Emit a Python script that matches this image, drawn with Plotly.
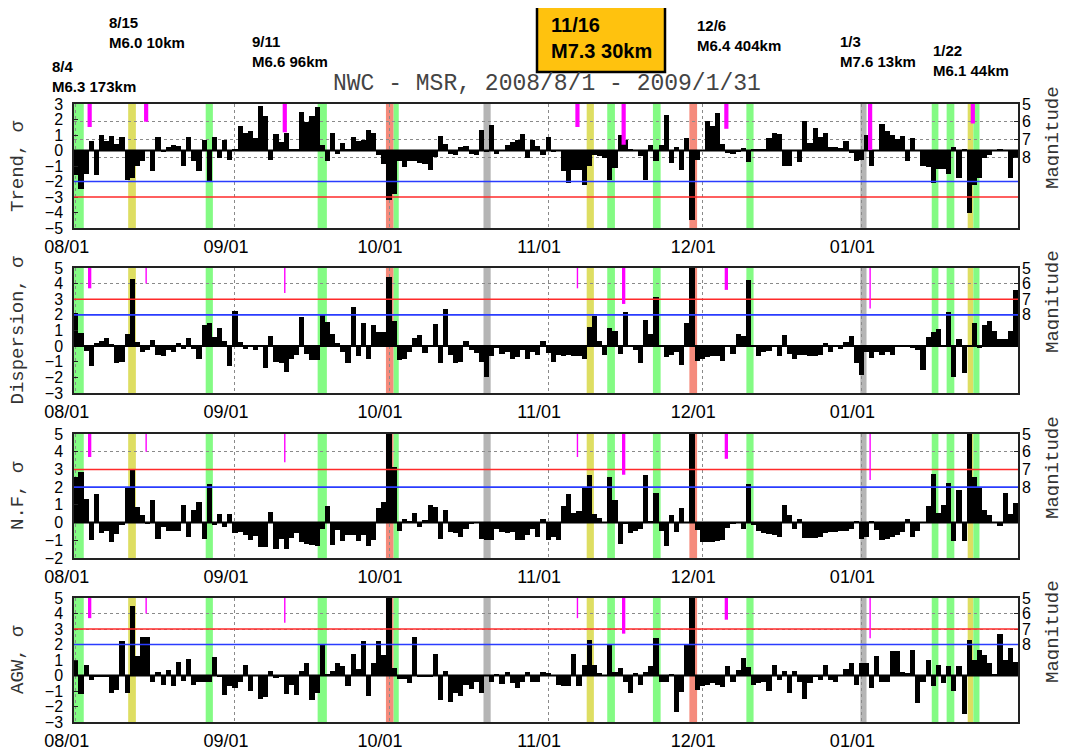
import numpy as np
import pandas as pd
import plotly.graph_objects as go

start = pd.Timestamp("2008-08-01")

trend = [
    -1.6, -2.5, -1.5, 0.6, -1.6, 1.0, 0.6, 0.95, 0.4, 0.9,
    -1.9, -1.8, -1.0, -0.7, 0.0, -1.3, 0.9, -0.1, 0.25, 0.35,
    0.3, -1.0, 0.85, -0.7, -1.3, 0.7, -1.95, 0.85, -0.5, 0.7,
    -0.6, 0.1, 1.55, 1.15, 1.25, 0.8, 2.9, 2.2, -0.6, 1.05,
    0.55, 1.1, 0.1, 0.05, 2.5, 1.85, 2.2, 2.8, 0.35, -0.7,
    1.1, -0.2, 0.5, 0.1, 0.9, 0.6, 0.65, 1.3, 1.1, -0.3,
    -0.9, -3.2, -2.8, -0.7, -1.05, -0.7, -0.7, -0.8, -0.9, -1.25,
    -0.4, 0.95, 0.45, -0.2, -0.3, 0.25, 0.3, -0.2, -0.3, 1.3,
    -0.1, 1.65, -0.25, 0.0, 0.35, 0.55, 0.65, 1.05, -0.5, 0.7,
    0.3, -0.3, 0.85, -0.05, 0.0, -1.35, -2.1, -1.25, -1.25, -2.2,
    -1.0, -0.3, -0.35, -0.5, -1.9, -1.15, 1.0, 0.65, 0.05, 0.0,
    -0.35, -1.9, 0.35, -0.7, 0.35, 2.3, -0.8, 0.25, -1.25, 0.8,
    -4.5, -0.6, 0.0, 1.9, 1.55, 2.45, 0.45, -0.15, -0.25, -0.1,
    0.15, -0.75, 0.05, 0.05, 0.1, 0.8, 1.1, 1.05, -1.0, -1.0,
    0.0, -0.75, 1.9, 0.5, 1.45, 0.9, 1.1, 0.2, 0.2, 0.15,
    0.6, -0.15, -0.7, -0.6, 1.0, -1.0, 0.0, 1.7, 1.25, 1.0,
    0.75, 0.95, -0.7, 0.8, 0.0, -1.0, -1.05, -2.1, -1.2, -1.2,
    -1.5, 0.2, -1.8, 0.1, -4.0, -2.2, -1.8, -0.5, -0.3, 0.0,
    0.05, 0.0, -1.75, -0.5,
]

dispersion = [
    2.1, 0.85, -0.3, -1.25, 0.2, 0.35, 0.5, 0.15, -1.05, -1.0,
    0.75, 4.3, 0.25, -0.35, -0.25, 0.4, -0.55, -0.6, -0.25, -0.4,
    0.2, -0.2, 0.5, -0.2, -0.8, 1.35, 1.45, 0.6, 1.15, 0.3,
    -1.3, 2.25, 0.25, -0.2, 0.0, -0.25, 0.05, -1.4, 0.65, -1.0,
    -1.1, -1.65, -0.85, -0.55, 1.85, -0.5, -0.9, -0.9, 2.0, 1.55,
    0.8, 0.2, -0.35, -1.1, 2.5, -0.6, 1.45, -0.8, 1.35, 0.9,
    0.9, 4.45, 1.6, -0.9, -0.8, -0.35, 0.55, 0.7, -0.45, 0.1,
    1.4, -1.05, 2.35, -0.55, -1.1, -1.0, 0.3, -0.25, -0.45, -1.0,
    -1.95, -0.65, -0.1, -0.5, -0.35, -0.8, -0.7, -0.25, -0.8, -0.35,
    -0.55, 0.3, -0.45, -1.0, -0.55, -0.65, -0.55, -0.6, -0.65, -0.8,
    1.25, 1.9, 0.3, -0.55, 1.15, 0.95, -0.5, 2.2, 0.05, -0.25,
    -1.05, 1.65, 0.8, 3.15, 0.0, -0.7, -0.55, -0.35, -1.2, 1.45,
    5.5, -0.95, -0.8, -0.7, -0.6, -0.6, -0.95, 0.05, -0.5, 0.75,
    0.65, 4.25, 0.0, -0.6, -0.35, -0.3, 0.0, -0.65, 0.7, -0.5,
    -0.8, -0.55, -0.55, -0.65, -0.65, -0.55, 0.2, -0.35, 0.0, -0.2,
    0.25, 0.65, -1.1, -1.85, -0.35, -0.75, -0.35, -0.55, -0.35, -0.55,
    0.0, 0.05, 0.0, -0.1, -0.25, -1.5, 0.6, 0.9, 1.1, 0.0,
    2.2, -1.95, 0.45, -1.75, 0.0, 1.45, -0.1, 1.35, 1.6, 0.95,
    0.45, 0.45, 0.95, 3.6,
]

nf = [
    2.55, 2.85, 1.35, -1.0, 1.6, -0.6, -0.5, -1.1, -0.65, -0.15,
    2.0, 2.95, 0.9, 0.4, -0.1, 1.3, -0.9, -0.25, -0.5, -0.5,
    -0.45, 1.0, -0.8, 0.7, 1.15, -0.95, 2.15, -0.15, 0.5, -0.25,
    0.5, -0.6, -0.55, -0.7, -1.0, -0.75, -1.4, -1.4, 0.6, -1.5,
    -0.9, -1.5, -0.85, -0.6, -1.1, -1.2, -1.25, -1.3, -0.35, 0.95,
    -1.25, -0.4, -1.05, -0.7, -0.7, -1.05, -0.7, -1.3, -1.0, 0.8,
    1.15, 5.5, 3.15, -0.5, 0.2, 0.1, 0.55, -0.25, 0.15, 1.0,
    0.9, -0.9, 0.7, -0.55, -0.6, -0.8, -0.35, -0.05, 0.0, -0.9,
    -1.0, -1.0, -0.35, -0.55, -0.6, -0.55, -1.0, -1.0, -0.7, -0.35,
    -0.8, 0.2, -1.0, -0.8, -1.0, 0.95, 1.6, 0.55, 0.65, 2.0,
    2.7, 0.5, 0.25, 0.0, 2.55, 1.25, -1.2, -0.1, -0.6, -0.5,
    -0.35, 2.7, 0.1, 1.65, -0.5, -1.35, 0.45, -0.55, 0.8, 0.0,
    5.5, -0.4, -1.1, -1.1, -1.1, -1.05, -1.0, -0.3, -0.05, 0.0,
    -0.35, 2.2, -0.15, -0.5, -0.6, -0.65, -0.7, -0.8, 1.0, 0.4,
    -0.35, 0.2, -0.85, -0.85, -0.85, -0.8, -0.6, -0.55, -0.55, -0.5,
    -0.5, -0.35, 0.1, -0.9, -0.8, 0.1, -0.4, -1.0, -0.9, -0.8,
    -0.7, -0.55, 0.2, -0.8, -0.5, 0.0, 0.95, 2.75, 0.55, 1.0,
    2.25, -1.05, 1.85, -1.05, 5.5, 2.55, 2.0, 0.7, 0.4, 0.0,
    -0.2, 1.65, 0.5, 1.1,
]

agw = [
    1.0, -1.2, 0.7, -0.3, -0.05, -0.05, -0.05, -1.15, -0.95, 2.2,
    -1.1, 4.5, 1.25, 2.5, 2.5, -0.45, 0.2, -0.6, 0.35, -0.7,
    0.85, -0.35, 1.05, -0.6, -0.45, -0.45, -0.4, 1.2, -0.05, -1.25,
    -0.7, -0.8, -0.4, 0.65, -1.0, 0.0, -1.5, -1.4, 0.3, -0.15,
    -0.1, -1.2, -0.6, -1.25, 0.3, 0.8, -1.55, -1.1, 2.0, 0.05,
    0.3, 0.8, 0.6, -0.7, 1.4, 0.45, 2.2, -1.3, 0.8, 2.2,
    1.3, 5.5, 0.5, -0.2, -0.25, -0.5, 2.5, -0.05, -0.05, -0.05,
    1.4, -1.6, 0.3, -1.7, -1.15, -1.35, -0.6, -0.85, -0.45, -1.15,
    0.0, -0.4, 0.05, -0.55, 0.2, -0.5, -0.8, -0.4, 0.2, -0.45,
    -0.4, 0.2, 0.15, 0.0, -0.6, -0.7, -0.7, 1.4, -0.7, 0.7,
    2.3, 0.65, 0.15, 0.0, 2.0, 0.2, 0.5, -0.45, -1.15, 0.15,
    -0.6, 0.25, 0.6, 2.45, -0.4, -0.4, 0.05, -2.35, -1.05, 2.05,
    5.5, -0.95, -0.7, -0.6, -0.5, -0.6, -0.75, 0.6, -0.4, 0.35,
    1.15, 0.55, -0.6, -0.5, -0.45, -1.0, 0.7, -0.3, 0.3, -1.1,
    0.3, -0.4, -1.5, -0.5, -0.05, -0.3, 0.65, -0.3, -0.4, 0.0,
    0.45, 0.8, -0.6, 0.8, 0.8, -0.8, 1.25, -0.4, -0.45, 1.55,
    1.55, 0.2, 0.15, 1.65, -1.75, -0.4, 1.0, -0.65, 0.65, -0.5,
    0.6, -1.0, 0.6, -2.5, 2.3, 1.0, 1.65, 1.3, 0.8, 0.05,
    2.65, 1.0, 1.8, 0.9,
]

month_starts = ["2008-08-01", "2008-09-01", "2008-10-01", "2008-11-01", "2008-12-01", "2009-01-01"]
month_labels = ["08/01", "09/01", "10/01", "11/01", "12/01", "01/01"]

# highlighted days (day offsets from 2008-08-01): start, end, kind
band_start = [-0.5, 10.2, 25.3, 47.1, 60.4, 61.9, 79.4, 99.5, 103.5, 112.4, 119.5, 130.6, 152.8, 166.7, 169.6, 173.7, 174.8]
band_end   = [1.55, 11.7, 26.7, 48.9, 61.9, 62.9, 80.8, 100.9, 105.0, 113.9, 121.0, 132.0, 154.0, 168.0, 171.1, 174.8, 176.0]
band_kind  = ["g", "y", "g", "g", "r", "g", "k", "y", "g", "g", "r", "g", "k", "g", "g", "y", "g"]
band_colors = {"g": "#84fb84", "y": "#dede62", "r": "#f58b7c", "k": "#b5b5b5"}

# earthquakes
quake_dates = ["2008-08-04", "2008-08-15", "2008-09-11", "2008-11-07", "2008-11-16",
               "2008-12-06", "2009-01-03", "2009-01-23"]
quake_mags = [6.3, 6.0, 6.6, 6.3, 7.3, 6.4, 7.6, 6.1]
quake_lower = ["thick", "thin", "thin", "thin", "thick", "thick", "thin", "none"]

quake_notes = [("8/4", "M6.3 173km"), ("8/15", "M6.0 10km"), ("9/11", "M6.6 96km"),
               ("12/6", "M6.4 404km"), ("1/3", "M7.6 13km"), ("1/22", "M6.1 44km")]
quake_note_pos = [(50, 77), (107, 32), (250, 51), (695, 35), (838, 51), (931, 60)]
main_note = ("11/16", "M7.3 30km")

title_text = "NWC - MSR, 2008/8/1 - 2009/1/31"

W, H = 1067, 750
OFF = 8  # page margin of the html body
XL, XR = 74, 1018


def fx(px):
    return (px - OFF) / W


def fy(py):
    return 1 - (py - OFF) / H


panels = [
    dict(name="Trend, σ", vals=trend, yr=(-5, 3), red=-3, blue=-2, magmax=12, top=104, bot=228),
    dict(name="Dispersion, σ", vals=dispersion, yr=(-3, 5), red=3, blue=2, magmax=13, top=268, bot=393),
    dict(name="N.F, σ", vals=nf, yr=(-2, 5), red=3, blue=2, magmax=12, top=434, bot=558),
    dict(name="AGW, σ", vals=agw, yr=(-3, 5), red=3, blue=2, magmax=13, top=598, bot=722),
]

days = np.arange(len(trend))
month_days = [(pd.Timestamp(m) - start).days for m in month_starts]
quake_days = [(pd.Timestamp(q) - start).days for q in quake_dates]

fig = go.Figure()
shapes = []
annotations = []
layout = {}

tick_font = dict(family="Liberation Sans, Arial, sans-serif", size=16, color="#000")
xtick_font = dict(family="Liberation Sans, Arial, sans-serif", size=18, color="#000")
mono = "Liberation Mono, Courier New, monospace"

for i, p in enumerate(panels):
    n = i + 1
    sfx = "" if n == 1 else str(n)
    xa, ya = "x" + sfx, "y" + sfx
    ma = "y" + str(n + 4)
    dom = [fy(p["bot"]), fy(p["top"])]

    fig.add_trace(go.Bar(x=days, y=p["vals"], xaxis=xa, yaxis=ya, width=1.0,
                         marker=dict(color="black", line=dict(width=0)),
                         showlegend=False, hoverinfo="skip"))
    fig.add_trace(go.Scatter(x=[days[0]], y=[5], xaxis=xa, yaxis=ma, mode="markers",
                             marker=dict(opacity=0), showlegend=False, hoverinfo="skip"))

    layout["xaxis" + sfx] = dict(
        domain=[fx(XL), fx(XR)], anchor=ya, range=[-0.35, 183.5], automargin=False,
        tickmode="array", tickvals=month_days, ticktext=month_labels, ticks="",
        showgrid=True, griddash="dot", gridcolor="#8a8a8a", gridwidth=1,
        showline=True, mirror=True, linecolor="#222", linewidth=1.5, zeroline=False,
        tickfont=xtick_font, ticklabelshift=-9, ticklabelstandoff=2, fixedrange=True)
    layout["yaxis" + sfx] = dict(
        domain=dom, anchor=xa, range=list(p["yr"]), tick0=0, dtick=1, automargin=False,
        ticks="inside", ticklen=4, tickcolor="#222", showgrid=False, zeroline=False,
        showline=True, mirror=True, linecolor="#222", linewidth=1.5,
        tickfont=tick_font, ticklabelstandoff=6, fixedrange=True)
    layout["yaxis" + str(n + 4)] = dict(
        overlaying=ya, anchor=xa, side="right", range=[p["magmax"], 5], automargin=False,
        tickmode="array", tickvals=[5, 6, 7, 8], ticks="inside", ticklen=4, tickcolor="#222",
        showgrid=True, griddash="dot", gridcolor="#8a8a8a", gridwidth=1,
        zeroline=False, showline=False, tickfont=tick_font, ticklabelstandoff=3,
        fixedrange=True)

    for s, e, k in zip(band_start, band_end, band_kind):
        shapes.append(dict(type="rect", xref=xa, yref=ya + " domain", x0=s, x1=e, y0=0, y1=1,
                           fillcolor=band_colors[k], line=dict(width=0), layer="below"))
    shapes.append(dict(type="line", xref=xa + " domain", yref=ya, x0=0, x1=1, y0=0, y1=0,
                       line=dict(color="black", width=2), layer="above"))
    shapes.append(dict(type="line", xref=xa + " domain", yref=ya, x0=0, x1=1, y0=p["red"], y1=p["red"],
                       line=dict(color="#ff2a2a", width=1.6), layer="above"))
    shapes.append(dict(type="line", xref=xa + " domain", yref=ya, x0=0, x1=1, y0=p["blue"], y1=p["blue"],
                       line=dict(color="#2a3cff", width=1.6), layer="above"))

    for qd, qm, ql in zip(quake_days, quake_mags, quake_lower):
        if n == 1:
            w, y0 = 4.2, 4.85
        else:
            if ql == "none":
                continue
            w, y0 = (3.3 if ql == "thick" else 1.4), 4.75
        shapes.append(dict(type="line", xref=xa, yref=ma, x0=qd - 0.3, x1=qd - 0.3, y0=y0, y1=qm,
                           line=dict(color="#ff00ff", width=w), layer="above"))

    cy = fy((p["top"] + p["bot"]) / 2)
    annotations.append(dict(text=p["name"], xref="paper", yref="paper", x=fx(18), y=cy,
                            textangle=-90, showarrow=False, xanchor="center", yanchor="middle",
                            font=dict(family=mono, size=19, color="#333")))
    annotations.append(dict(text="Magnitude", xref="paper", yref="paper", x=fx(1053),
                            y=fy(p["top"] + 34), textangle=-90, showarrow=False,
                            xanchor="center", yanchor="middle",
                            font=dict(family=mono, size=19, color="#333")))

annotations.append(dict(text=title_text, xref="paper", yref="paper", x=fx(547), y=fy(84),
                        showarrow=False, xanchor="center", yanchor="middle",
                        font=dict(family=mono, size=23, color="#444")))

for (d, m), (px, py) in zip(quake_notes, quake_note_pos):
    annotations.append(dict(text=f"{d}<br>{m}", xref="paper", yref="paper", x=fx(px), y=fy(py),
                            showarrow=False, xanchor="left", yanchor="middle", align="left",
                            font=dict(family="Liberation Sans, Arial, sans-serif", size=15,
                                      color="#000", weight="bold")))

shapes.append(dict(type="rect", xref="paper", yref="paper", x0=fx(537), x1=fx(665),
                   y0=fy(72), y1=fy(4), fillcolor="#ffc20e",
                   line=dict(color="black", width=2.5), layer="above"))
annotations.append(dict(text=f"{main_note[0]}<br>{main_note[1]}", xref="paper", yref="paper",
                        x=fx(549), y=fy(38), showarrow=False, xanchor="left", yanchor="middle",
                        align="left",
                        font=dict(family="Liberation Sans, Arial", size=20, color="#000",
                                  weight="bold")))

fig.update_layout(template="none", width=W, height=H, autosize=False,
                  margin=dict(l=0, r=0, t=0, b=0, autoexpand=False),
                  paper_bgcolor="white", plot_bgcolor="white", bargap=0,
                  shapes=shapes, annotations=annotations, showlegend=False, **layout)

fig.write_html("out.html")
